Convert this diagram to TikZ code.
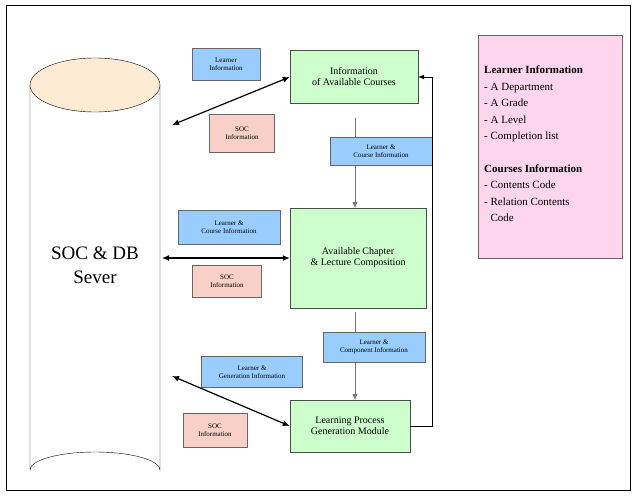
\documentclass[tikz,border=0pt]{standalone}
\usepackage{fontspec}
\setmainfont{Liberation Serif}
\usetikzlibrary{arrows.meta}
\definecolor{bl}{HTML}{99CCFF}
\definecolor{pk}{HTML}{F8D0C8}
\definecolor{gr}{HTML}{CCFFCC}
\definecolor{cr}{HTML}{FDEBD3}
\definecolor{lg}{HTML}{FDD5EC}
\begin{document}
\begin{tikzpicture}[x=1pt,y=-1pt,
  green/.style={draw=black!70,fill=gr,align=center,font=\fontsize{10}{11}\selectfont,inner sep=0pt},
  blue/.style={draw=black!60,fill=bl,align=center,font=\fontsize{7}{8}\selectfont,inner sep=0pt},
  pink/.style={draw=black!60,fill=pk,align=center,font=\fontsize{7}{8}\selectfont,inner sep=0pt},
  arr/.style={-{Latex[length=6pt,width=5pt]},draw=black!55},
  farr/.style={-{Latex[length=6pt,width=5pt]},thick},
  darr/.style={{Latex[length=7pt,width=6pt]}-{Latex[length=7pt,width=6pt]},very thick}]
\useasboundingbox (0,0) rectangle (634,498);
\draw (6,5) rectangle (630,490);
% cylinder
\draw[fill=white] (30,85) -- (30,470) arc[start angle=180,end angle=360,x radius=65,y radius=18] -- (160,85);
\draw[fill=cr] (95,85) ellipse[x radius=65,y radius=27];
\node[font=\fontsize{19}{24}\selectfont,align=center] (db) at (95,265) {SOC \& DB\\Sever};
\coordinate (c1) at (172,125);
\coordinate (c2) at (162,258);
\coordinate (c3) at (172,376);
% arrows behind
\coordinate (v1) at (355,118);
\coordinate (v2) at (355,312);
\draw[arr] (v1) -- (355,208);
\draw[arr] (v2) -- (355,400);
% green boxes
\node[green,minimum width=128,minimum height=53] (g1) at (354,77) {Information\\of Available Courses};
\node[green,minimum width=136,minimum height=100] (g2) at (358,258) {Available Chapter\\\& Lecture Composition};
\node[green,minimum width=120,minimum height=52] (g3) at (350,426) {Learning Process\\Generation Module};
% blue boxes
\node[blue,minimum width=68,minimum height=32] (b1) at (226,64) {Learner\\Information};
\node[blue,minimum width=102,minimum height=28] (b2) at (381,151) {Learner \&\\Course Information};
\node[blue,minimum width=102,minimum height=34] (b3) at (229,227) {Learner \&\\Course Information};
\node[blue,minimum width=102,minimum height=30] (b4) at (374,347) {Learner \&\\Component Information};
\node[blue,minimum width=101,minimum height=31] (b5) at (252,372) {Learner \&\\Generation Information};
% pink boxes
\node[pink,minimum width=65,minimum height=38] (p1) at (242,133) {SOC\\Information};
\node[pink,minimum width=69,minimum height=32] (p2) at (227,281) {SOC\\Information};
\node[pink,minimum width=64,minimum height=34] (p3) at (215,430) {SOC\\Information};
\draw[darr] (c1) -- (g1.west);
\draw[darr] (c2) -- (g2.west);
\draw[darr] (c3) -- (g3.west);
\draw[farr] (g3.east) -- (432,426) -- (432,77) -- (g1.east);
% legend
\node[draw=black!60,fill=lg,minimum width=144,minimum height=223,anchor=north west] (leg) at (478,35) {};
\node[anchor=north west,align=left,font=\fontsize{11}{16.5}\selectfont,inner sep=0pt] (lt) at (484,66)
{\textbf{Learner Information}\\- A Department\\- A Grade\\- A Level\\- Completion list\\[16pt]
\textbf{Courses Information}\\- Contents Code\\- Relation Contents\\\phantom{- }Code};
\end{tikzpicture}
\end{document}
